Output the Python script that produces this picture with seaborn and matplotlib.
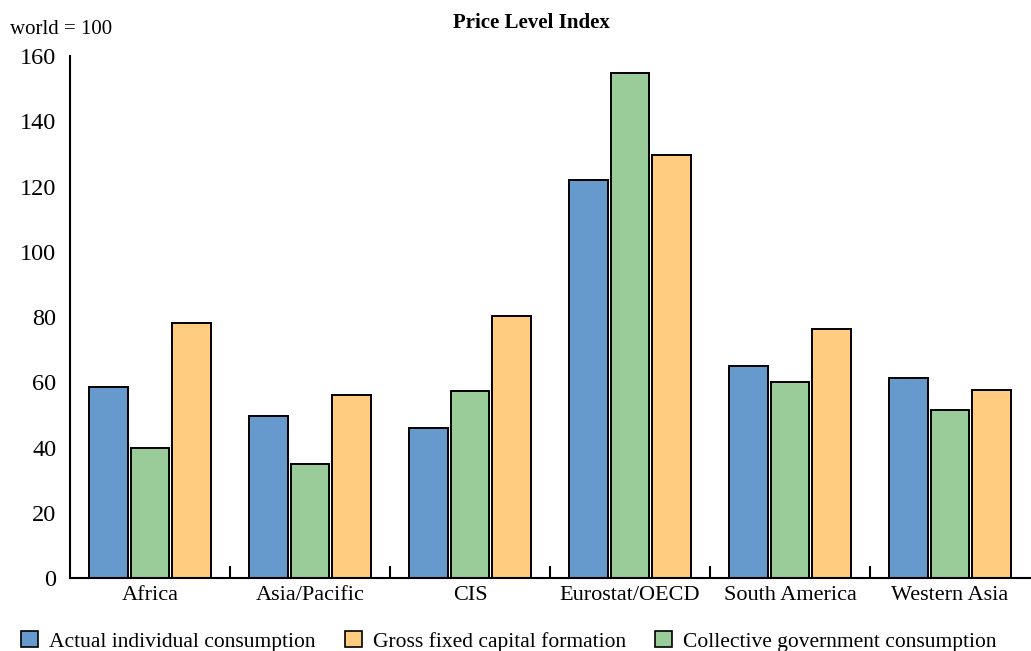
import matplotlib
matplotlib.use("Agg")
import matplotlib.pyplot as plt
from matplotlib.patches import Patch
from matplotlib.ticker import MultipleLocator, FixedLocator, NullFormatter
import seaborn as sns
import pandas as pd

regions = ["Africa", "Asia/Pacific", "CIS", "Eurostat/OECD", "South America", "Western Asia"]
actual_individual = [58.5, 49.7, 46.0, 122.0, 65.0, 61.3]
collective_government = [39.8, 34.9, 57.3, 154.8, 60.1, 51.5]
gross_fixed_capital = [78.2, 56.1, 80.3, 129.7, 76.3, 57.6]

series_names = ["Actual individual consumption",
                "Collective government consumption",
                "Gross fixed capital formation"]
legend_order = ["Actual individual consumption",
                "Gross fixed capital formation",
                "Collective government consumption"]
colors = {"Actual individual consumption": "#6699CC",
          "Collective government consumption": "#99CC99",
          "Gross fixed capital formation": "#FFCC80"}

df = pd.DataFrame({
    "region": regions * 3,
    "series": [series_names[0]] * 6 + [series_names[1]] * 6 + [series_names[2]] * 6,
    "value": actual_individual + collective_government + gross_fixed_capital,
})

sns.set_theme(style="white")
plt.rcParams["font.family"] = ["Liberation Serif", "DejaVu Serif"]
plt.rcParams["text.color"] = "black"

fig = plt.figure(figsize=(10.31, 6.51), dpi=100)
ax = fig.add_axes([0.068, 0.112, 0.931, 0.802])

sns.barplot(data=df, x="region", y="value", hue="series", order=regions,
            hue_order=series_names, palette=colors, width=0.78, gap=0.07,
            edgecolor="black", linewidth=1.4, saturation=1, legend=False, ax=ax)

ax.set_xlim(-0.5, len(regions) - 0.5)
ax.set_ylim(0, 160)
ax.yaxis.set_major_locator(MultipleLocator(20))
ax.set_xlabel("")
ax.set_ylabel("")

for side in ("top", "right"):
    ax.spines[side].set_visible(False)
for side in ("left", "bottom"):
    ax.spines[side].set_color("black")
    ax.spines[side].set_linewidth(1.5)

ax.tick_params(axis="y", length=0, labelsize=17.5, pad=10, colors="black",
               labelcolor="black")
ax.tick_params(axis="x", which="major", length=0, labelsize=16, pad=6,
               labelcolor="black")
ax.xaxis.set_minor_locator(FixedLocator([i + 0.5 for i in range(len(regions) - 1)]))
ax.xaxis.set_minor_formatter(NullFormatter())
ax.tick_params(axis="x", which="minor", bottom=True, direction="in", length=9,
               width=1.5, color="black")

fig.text(0.515, 0.965, "Price Level Index", ha="center", va="center",
         fontsize=15, fontweight="bold", color="black")
fig.text(0.01, 0.955, "world = 100", ha="left", va="center", fontsize=15,
         color="black")

handles = [Patch(facecolor=colors[n], edgecolor="black", linewidth=1.2, label=n)
           for n in legend_order]
leg = fig.legend(handles=handles, loc="lower left", bbox_to_anchor=(0.012, -0.014),
                 ncol=3, frameon=False, fontsize=15.5, handlelength=0.8,
                 handleheight=0.8, handletextpad=0.5, columnspacing=1.35,
                 borderaxespad=0)
for t in leg.get_texts():
    t.set_color("black")

fig.savefig("out.png", dpi=100)
